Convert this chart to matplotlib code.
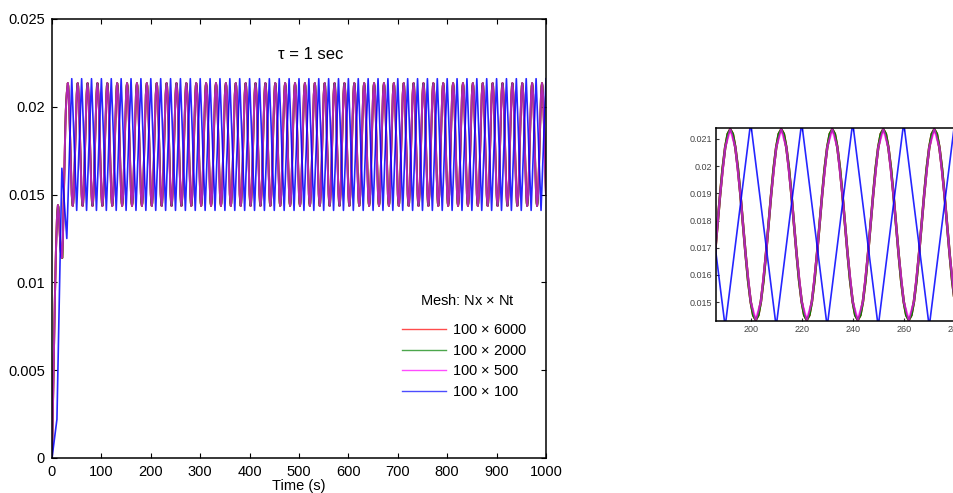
import numpy as np
import matplotlib
matplotlib.use('Agg')
import matplotlib.pyplot as plt


# fine-mesh response: one period (20 s) sampled every 1 s, phase 0..19
FINE_CYCLE = [0.01502, 0.01452, 0.01435, 0.01452, 0.01502, 0.01579, 0.01677, 0.01785, 0.01893, 0.01991,
              0.02068, 0.02118, 0.02135, 0.02118, 0.02068, 0.01991, 0.01893, 0.01785, 0.01677, 0.01579]
# fine-mesh start-up, t = 0..31 s
FINE_START = [0.0, 0.0016, 0.0032, 0.0048, 0.0064, 0.0079, 0.0093, 0.0106, 0.0118, 0.0128,
              0.0136, 0.0141, 0.0144, 0.0143, 0.0139, 0.0133, 0.0126, 0.0120, 0.0117, 0.0115,
              0.0114, 0.0114, 0.0124, 0.0136, 0.0150, 0.0164, 0.0177, 0.0189, 0.0198, 0.0204,
              0.0208, 0.0211]
T_END = 1000

# coarse mesh 100 x 100 (dt = 10 s)
COARSE_START = [0.0, 0.0022, 0.0165, 0.0125]
COARSE_PEAK = 0.0216
COARSE_TROUGH = 0.0141

LABELS = ['100 $\\times$ 6000', '100 $\\times$ 2000', '100 $\\times$ 500', '100 $\\times$ 100']
COLORS = ['#ff0000', '#008000', '#ff00ff', '#0000ff']

X_TICKS = list(range(0, 1001, 100))
Y_TICKS = [0, 0.005, 0.01, 0.015, 0.02, 0.025]
Y_TICKLABELS = ['0', '0.005', '0.01', '0.015', '0.02', '0.025']
INSET_X_TICKS = [200, 220, 240, 260, 280]
INSET_Y_TICKS = [0.015, 0.016, 0.017, 0.018, 0.019, 0.02, 0.021]
INSET_Y_TICKLABELS = ['0.015', '0.016', '0.017', '0.018', '0.019', '0.02', '0.021']

plt.rcParams['font.family'] = ['Liberation Sans', 'DejaVu Sans']
plt.rcParams['mathtext.fontset'] = 'custom'
plt.rcParams['mathtext.rm'] = 'Liberation Sans'


def build_series():
    t_fine = np.arange(0, T_END + 1)
    steady_t = t_fine[len(FINE_START):]
    fine = np.concatenate([FINE_START, np.take(FINE_CYCLE, steady_t % 20)])

    t_coarse = np.arange(0, T_END + 1, 10)
    coarse = []
    for i, t in enumerate(t_coarse):
        if i < len(COARSE_START):
            coarse.append(COARSE_START[i])
        elif t % 20 == 0:
            coarse.append(COARSE_PEAK)
        else:
            coarse.append(COARSE_TROUGH)
    series = [
        (t_fine, fine),
        (t_fine, fine),
        (t_fine[::2], fine[::2]),
        (t_coarse, np.array(coarse)),
    ]
    return series


def style_axes(ax, size, length, pad):
    ax.tick_params(direction='in', top=True, right=True, labelsize=size, length=length, width=0.8, pad=pad)
    for spine in ax.spines.values():
        spine.set_linewidth(1.1)


def draw_curves(ax, series, widths):
    alphas = [1.0, 1.0, 0.7, 0.85]
    for (t, y), color, label, a, lw in zip(series, COLORS, LABELS, alphas, widths):
        ax.plot(t, y, color=color, lw=lw, alpha=a, label=label)


def main():
    series = build_series()
    fig = plt.figure(figsize=(9.54, 4.93), dpi=100)

    ax = fig.add_axes([0.0545, 0.0710, 0.5178, 0.8905])
    draw_curves(ax, series, [1.4, 1.4, 1.4, 1.2])
    ax.set_xlim(0, 1000)
    ax.set_ylim(0, 0.025)
    ax.set_xticks(X_TICKS)
    ax.set_yticks(Y_TICKS)
    ax.set_yticklabels(Y_TICKLABELS)
    style_axes(ax, 10.5, 3.5, 5)
    ax.set_xlabel('Time (s)', fontsize=10.5, labelpad=0.3)
    ax.text(524, 0.0230, '\u03c4 = 1 sec', ha='center', va='center', fontsize=12)
    ax.text(842, 0.00898, 'Mesh: Nx $\\times$ Nt', ha='center', va='center', fontsize=10.5)

    handles = [plt.Line2D([], [], color=c, lw=1.0, alpha=0.7) for c in COLORS]
    ax.legend(handles, LABELS, frameon=False, fontsize=10.5, loc='upper left',
              bbox_to_anchor=(0.682, 0.337), handlelength=3.0, handletextpad=0.45, labelspacing=0.45)

    inset = fig.add_axes([0.7505, 0.3489, 0.2770, 0.3915])
    draw_curves(inset, series, [1.8, 1.8, 1.6, 1.2])
    inset.set_xlim(186.4, 290)
    inset.set_ylim(0.01431, 0.0214)
    inset.set_xticks(INSET_X_TICKS)
    inset.set_yticks(INSET_Y_TICKS)
    inset.set_yticklabels(INSET_Y_TICKLABELS)
    style_axes(inset, 6.5, 2.5, 3)
    inset.tick_params(colors='#333333', labelcolor='#444444')

    plt.savefig('out.png', dpi=100)


if __name__ == '__main__':
    main()
